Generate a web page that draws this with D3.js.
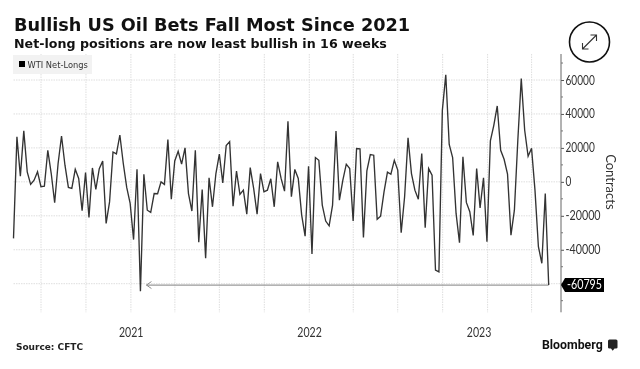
<!DOCTYPE html>
<html>
<head>
<meta charset="utf-8">
<script src="https://cdn.jsdelivr.net/npm/d3@7"></script>
<style>
  html, body { margin: 0; padding: 0; background: #fff; }
  svg { display: block; }
</style>
</head>
<body>
<div id="chart"></div>
<script>
// Weekly WTI net-long change
const netLongs = [
  -33300, 26500, 3300, 30000, 5900, -1500, 1000, 5900, -2900, -2500,
  18600, 4900, -12300, 10800, 27000, 9800, -3300, -3900, 7400, 2000,
  -17000, 5500, -21000, 8200, -4500, 7800, 12200, -24500, -11800, 17600,
  16500, 27600, 10800, -3300, -12700, -34000, 7400, -64500, 4500, -16700,
  -18000, -6900, -7000, 0, -1500, 24900, -10200, 12300, 18000, 10400,
  20000, -6900, -17200, 18600, -35500, -4500, -45000, 2400, -14700, 4900,
  16300, -600, 21400, 23700, -14300, 6300, -7400, -4900, -19000, 8400,
  -3900, -19000, 4900, -5900, -4900, 1800, -14700, 11800, 2000, -5500,
  35700, -8800, 7300, 2000, -19600, -32000, 9200, -42500, 14300, 12700,
  -13700, -23100, -25900, -13700, 30000, -10800, 1000, 10400, 7800, -23100,
  19600, 19400, -32700, 6500, 16100, 15700, -22000, -20200, -5900, 5700,
  4500, 12700, 6900, -30000, -8800, 25900, 4900, -4900, -10200, 16700,
  -27000, 7800, 3900, -52000, -53000, 42100, 63100, 22000, 14300, -18600,
  -35900, 14700, -12100, -17600, -31600, 7800, -15300, 2400, -35300, 24100,
  33300, 44700, 18600, 13300, 4500, -31400, -16700, 24500, 60800, 30400,
  15100, 19800, -4900, -38200, -48000, -6900, -60795
];
const gridTicks = [60000, 40000, 20000, 0, -20000, -40000, -60000];
// -60000 is covered by the last value tag, so it gets no label
const yLabels = [60000, 40000, 20000, 0, -20000, -40000];
const yMinorTicks = [70000, 50000, 30000, 10000, -10000, -30000, -50000, -60000, -70000];
const quarterDates = ["2020-07-01", "2020-10-01", "2021-01-01", "2021-04-01", "2021-07-01", "2021-10-01",
  "2022-01-01", "2022-04-01", "2022-07-01", "2022-10-01", "2023-01-01", "2023-04-01"];
const yearLabels = ["2021", "2022", "2023"];
const yearLabelDates = ["2021-01-01", "2022-01-01", "2022-12-14"];
const lastValue = netLongs[netLongs.length - 1];

const width = 640;
const height = 369;
const plot = { left: 13.5, right: 548.7, axis: 561, top: 54, bottom: 312.3 };

// labels in the picture are squeezed sideways, so fix their length per character
const digitWidth = 5.85;
const numberLabel = d => String(d).replace("\u2212", "-");

const svg = d3.select("#chart").append("svg")
  .attr("width", width)
  .attr("height", height)
  .style("filter", "blur(0.35px)");

//Scales
const x = d3.scaleLinear().domain([0, netLongs.length - 1]).range([plot.left, plot.right]);
const xTime = d3.scaleUtc()
  .domain([new Date("2020-07-01"), new Date("2023-04-01")])
  .range([41, 531.6]);
const y = d3.scaleLinear().domain([60000, -60000]).range([80, 283.7]);

//Grid
const gridStyle = { stroke: "#dedede", dash: "1.5,1" };
svg.append("g").selectAll("line")
  .data(gridTicks)
  .join("line")
  .attr("x1", plot.left).attr("x2", plot.axis)
  .attr("y1", d => y(d)).attr("y2", d => y(d))
  .attr("stroke", gridStyle.stroke).attr("stroke-dasharray", gridStyle.dash);
svg.append("g").selectAll("line")
  .data(quarterDates)
  .join("line")
  .attr("x1", d => xTime(new Date(d))).attr("x2", d => xTime(new Date(d)))
  .attr("y1", plot.top).attr("y2", plot.bottom)
  .attr("stroke", gridStyle.stroke).attr("stroke-dasharray", gridStyle.dash);

//Y axis
const yAxis = svg.append("g")
  .attr("transform", `translate(${plot.axis},0)`)
  .call(d3.axisRight(y).tickValues(yLabels).tickSize(3).tickFormat(d3.format("d")));
yAxis.select(".domain").remove();
yAxis.selectAll("text")
  .attr("x", 4.5)
  .attr("font-family", "Lato, sans-serif")
  .attr("font-size", 12.5)
  .attr("fill", "#333")
  .text(numberLabel)
  .attr("lengthAdjust", "spacingAndGlyphs")
  .attr("textLength", d => numberLabel(d).length * digitWidth);
yAxis.selectAll("line").attr("stroke", "#555");
svg.append("line")
  .attr("x1", plot.axis).attr("x2", plot.axis)
  .attr("y1", plot.top).attr("y2", plot.bottom)
  .attr("stroke", "#666").attr("stroke-width", 1);
svg.append("g").selectAll("line")
  .data(yMinorTicks)
  .join("line")
  .attr("x1", plot.axis).attr("x2", plot.axis + 2)
  .attr("y1", d => y(d)).attr("y2", d => y(d))
  .attr("stroke", "#777");

svg.append("text")
  .attr("transform", `translate(606,${y(0)}) rotate(90)`)
  .attr("text-anchor", "middle")
  .attr("font-family", "Lato, sans-serif")
  .attr("font-size", 13)
  .attr("fill", "#333")
  .text("Contracts");

//Year labels
svg.append("g").selectAll("text")
  .data(yearLabels)
  .join("text")
  .attr("x", (d, i) => xTime(new Date(yearLabelDates[i])) - 12)
  .attr("y", 337)
  .attr("font-family", "Lato, sans-serif")
  .attr("font-size", 13)
  .attr("fill", "#333")
  .attr("lengthAdjust", "spacingAndGlyphs")
  .attr("textLength", 24.5)
  .text(d => d);

//Arrow from last value back to the previous low
const arrowY = y(lastValue);
svg.append("line")
  .attr("x1", x(netLongs.length - 1)).attr("x2", x(37) + 6)
  .attr("y1", arrowY).attr("y2", arrowY)
  .attr("stroke", "#9a9a9a").attr("stroke-width", 1.2);
svg.append("path")
  .attr("d", d3.line()([[x(37) + 11, arrowY - 3.5], [x(37) + 6, arrowY], [x(37) + 11, arrowY + 3.5]]))
  .attr("fill", "none").attr("stroke", "#8c8c8c").attr("stroke-width", 1);

//Series line
svg.append("path")
  .datum(netLongs)
  .attr("d", d3.line().x((d, i) => x(i)).y(d => y(d)))
  .attr("fill", "none")
  .attr("stroke", "#333")
  .attr("stroke-width", 1.35)
  .attr("stroke-linejoin", "miter");

//Last value tag
const tag = svg.append("g").attr("transform", `translate(0,${arrowY})`);
tag.append("path")
  .attr("d", "M561,0L565,-7H604V7H565Z")
  .attr("fill", "#000");
tag.append("text")
  .attr("x", 567).attr("y", 4.4)
  .attr("font-family", "Lato, sans-serif")
  .attr("font-size", 12.5)
  .attr("fill", "#fff")
  .attr("lengthAdjust", "spacingAndGlyphs")
  .attr("textLength", 35)
  .text(numberLabel(lastValue));

//Legend
svg.append("rect")
  .attr("x", 13).attr("y", 55).attr("width", 79).attr("height", 19)
  .attr("fill", "#f2f2f2");
svg.append("rect")
  .attr("x", 19).attr("y", 61).attr("width", 6).attr("height", 6)
  .attr("fill", "#000");
svg.append("text")
  .attr("x", 27.5).attr("y", 68)
  .attr("font-family", "DejaVu Sans, sans-serif")
  .attr("font-size", 8.3)
  .attr("fill", "#333")
  .text("WTI Net-Longs");

//Titles
svg.append("text")
  .attr("x", 14).attr("y", 31)
  .attr("font-family", "DejaVu Sans, sans-serif")
  .attr("font-weight", "bold")
  .attr("font-size", 17.7)
  .attr("fill", "#111")
  .text("Bullish US Oil Bets Fall Most Since 2021");
svg.append("text")
  .attr("x", 14).attr("y", 47.5)
  .attr("font-family", "DejaVu Sans, sans-serif")
  .attr("font-weight", "bold")
  .attr("font-size", 12.65)
  .attr("fill", "#111")
  .text("Net-long positions are now least bullish in 16 weeks");

//Expand button
const cx = 589.5, cy = 42;
svg.append("circle")
  .attr("cx", cx).attr("cy", cy).attr("r", 20)
  .attr("fill", "#fff").attr("stroke", "#111").attr("stroke-width", 1.6);
const icon = svg.append("g")
  .attr("transform", `translate(${cx},${cy})`)
  .attr("fill", "none").attr("stroke", "#333").attr("stroke-width", 1.1);
icon.append("path").attr("d", "M-6.5,6.5L6.5,-6.5M1,-7H7V-1M-7,1V7H-1");

//Footer
svg.append("text")
  .attr("x", 16).attr("y", 349.7)
  .attr("font-family", "DejaVu Sans, sans-serif")
  .attr("font-weight", "bold")
  .attr("font-size", 9)
  .attr("fill", "#222")
  .attr("lengthAdjust", "spacing")
  .attr("textLength", 67)
  .text("Source:  CFTC");
svg.append("text")
  .attr("x", 542).attr("y", 349.3)
  .attr("font-family", "Roboto, sans-serif")
  .attr("font-weight", 700)
  .attr("font-size", 13)
  .attr("fill", "#111")
  .attr("lengthAdjust", "spacingAndGlyphs")
  .attr("textLength", 60.7)
  .text("Bloomberg");
svg.append("path")
  .attr("d", "M608,341Q608,339.5 609.5,339.5H616Q617.5,339.5 617.5,341V347.5Q617.5,348.5 616,348.5H614.5L612.7,350.7L611,348.5H609.5Q608,348.5 608,347.5Z")
  .attr("fill", "#222");
</script>
</body>
</html>
